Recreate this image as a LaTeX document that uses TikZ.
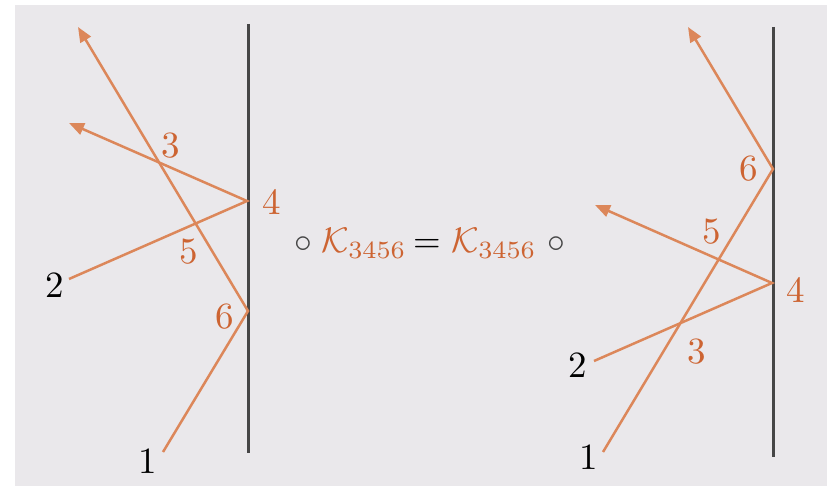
\documentclass[tikz,border=0pt]{standalone}
\usetikzlibrary{arrows.meta}
\definecolor{bggray}{HTML}{EAE8EB}
\definecolor{rayorange}{HTML}{DC875A}
\definecolor{labelorange}{HTML}{CD6432}
\definecolor{wallgray}{HTML}{464646}
\tikzset{
  ray/.style={draw=rayorange, line width=2.5pt, line join=miter},
  rayarrow/.style={ray, -{Triangle[length=15pt,width=12pt]}},
  wall/.style={draw=wallgray, line width=3pt},
  lbl/.style={text=labelorange, inner sep=0pt},
  blbl/.style={text=black, inner sep=0pt},
  mth/.style={inner sep=0pt, anchor=base},
}
\newcommand{\mybigmath}[1]{\scalebox{3.55}{$#1$}}
\newcommand{\mybiglbl}[1]{\scalebox{3.7}{#1}}
\begin{document}
\begin{tikzpicture}[x=1pt,y=-1pt]
\useasboundingbox (0,0) rectangle (827,486);
\fill[bggray] (15,5) rectangle (827,486);

% left panel
\coordinate (lwt) at (248,24);
\coordinate (lwb) at (248,453);
\draw[wall] (lwt) -- (lwb);
\coordinate (l1) at (163,452);
\coordinate (l6) at (248,311);
\coordinate (l1t) at (78,27);
\coordinate (l2) at (69,279);
\coordinate (l4) at (247,201);
\coordinate (l2t) at (69,123);
\draw[rayarrow] (l1) -- (l6) -- (l1t);
\draw[rayarrow] (l2) -- (l4) -- (l2t);
\node[blbl] (ln1) at (148,461) {\mybiglbl{1}};
\node[blbl] (ln2) at (55,285) {\mybiglbl{2}};
\node[lbl] (ln3) at (171,146) {\mybiglbl{3}};
\node[lbl] (ln4) at (272,202) {\mybiglbl{4}};
\node[lbl] (ln5) at (189,252) {\mybiglbl{5}};
\node[lbl] (ln6) at (225,317) {\mybiglbl{6}};

% centre formula
\node[mth, text=wallgray] (c1) at (303,253) {\mybigmath{\circ}};
\node[mth, text=labelorange, anchor=base west] (k1) at (321,253) {\mybigmath{\mathcal{K}_{3456}}};
\node[mth, text=black] (eq) at (427,253) {\mybigmath{=}};
\node[mth, text=labelorange, anchor=base west] (k2) at (451,253) {\mybigmath{\mathcal{K}_{3456}}};
\node[mth, text=wallgray] (c2) at (556,253) {\mybigmath{\circ}};

% right panel
\coordinate (rwt) at (773,27);
\coordinate (rwb) at (773,457);
\draw[wall] (rwt) -- (rwb);
\coordinate (r1) at (603,452);
\coordinate (r6) at (773,169);
\coordinate (r1t) at (688,27);
\coordinate (r2) at (594,361);
\coordinate (r4) at (772,283);
\coordinate (r2t) at (595,205);
\draw[rayarrow] (r1) -- (r6) -- (r1t);
\draw[rayarrow] (r2) -- (r4) -- (r2t);
\node[blbl] (rn1) at (589,457) {\mybiglbl{1}};
\node[blbl] (rn2) at (578,365) {\mybiglbl{2}};
\node[lbl] (rn3) at (697,352) {\mybiglbl{3}};
\node[lbl] (rn4) at (796,290) {\mybiglbl{4}};
\node[lbl] (rn5) at (712,232) {\mybiglbl{5}};
\node[lbl] (rn6) at (749,169) {\mybiglbl{6}};
\end{tikzpicture}
\end{document}
